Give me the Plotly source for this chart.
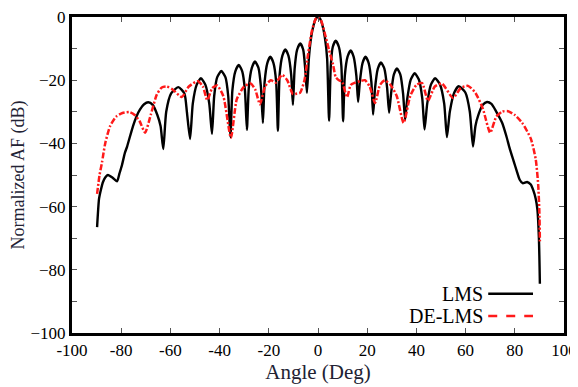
import plotly.graph_objects as go

# LMS (black solid) : angle (deg), normalized AF (dB)
lms_angle = [-89.8, -89.0, -88.2, -87.4, -86.5, -85.4, -83.6, -81.7, -80.7, -79.7, -78.5, -77.6, -75.2, -73.7, -72.4, -70.7, -69.0, -67.2, -65.3, -64.0, -62.9,
             -61.7, -59.7, -56.8, -54.3, -53.3, -52.0,
             -50.9, -49.3, -47.6, -45.8, -44.2, -43.1,
             -42.2, -41.0, -39.3, -37.6, -36.5, -35.6,
             -34.8, -33.6, -32.2, -30.8, -29.7, -28.9,
             -28.1, -26.9, -25.6, -24.2, -23.2, -22.4,
             -21.7, -20.6, -19.4, -18.1, -17.0, -16.3,
             -15.6, -14.5, -13.3, -12.0, -10.9, -10.2,
             -9.5, -8.5, -7.2, -6.0, -5.2, -4.5,
             -3.7, -2.8, -1.8, -0.9, 0.0, 0.9, 1.8, 2.8, 3.7, 4.5,
             5.2, 6.0, 7.2, 8.5, 9.5, 10.2,
             10.9, 12.0, 13.3, 14.5, 15.6, 16.3,
             17.0, 18.1, 19.3, 20.6, 21.7, 22.4,
             23.2, 24.3, 25.6, 27.0, 28.1, 28.9,
             29.7, 30.8, 32.1, 33.5, 34.6, 35.4,
             36.3, 37.7, 39.3, 41.0, 42.4, 43.3,
             44.4, 45.9, 47.6, 49.6, 51.3, 52.4,
             53.6, 55.4, 57.2, 59.9, 61.7, 63.0,
             64.0, 65.2, 67.0, 68.7, 70.5, 72.5, 74.8, 76.5, 78.0, 79.5, 80.9, 82.0, 83.2, 85.0, 86.5, 87.5, 88.5, 89.2, 89.8, 90.2]
lms_db = [-66.5, -57.5, -54.5, -52.2, -50.8, -50.0, -50.8, -52.0, -49.5, -46.9, -43.0, -41.0, -34.5, -31.3, -29.3, -27.6, -27.0, -27.8, -31.0, -34.5, -41.8,
          -30.0, -24.2, -22.2, -24.2, -30.0, -38.6,
          -27.4, -21.4, -19.4, -21.4, -27.4, -37.0,
          -25.0, -19.1, -17.1, -19.1, -25.0, -38.0,
          -23.2, -17.2, -15.2, -17.2, -23.2, -35.7,
          -22.1, -16.1, -14.1, -16.1, -22.1, -33.5,
          -20.6, -14.6, -12.6, -14.6, -20.6, -36.0,
          -18.3, -12.3, -10.3, -12.3, -18.3, -27.8,
          -16.4, -10.4, -8.4, -10.4, -16.4, -24.0,
          -13.0, -6.5, -2.6, -0.6, 0.0, -0.6, -2.6, -6.5, -13.0, -32.8,
          -15.5, -9.5, -7.5, -9.5, -15.5, -33.0,
          -18.6, -12.6, -10.6, -12.6, -18.6, -26.9,
          -20.6, -14.6, -12.6, -14.6, -20.6, -30.9,
          -22.4, -16.4, -14.4, -16.4, -22.4, -30.3,
          -24.3, -18.3, -16.3, -18.3, -24.3, -32.5,
          -25.8, -19.8, -17.8, -19.8, -25.8, -35.6,
          -27.4, -21.4, -19.4, -21.4, -27.4, -38.0,
          -29.9, -23.9, -21.9, -23.9, -29.9, -41.0,
          -34.5, -31.0, -27.8, -26.9, -27.5, -30.0, -33.4, -37.5, -41.8, -45.5, -49.0, -51.5, -52.6, -52.2, -53.0, -54.8, -57.5, -61.0, -70.0, -84.4]

# DE-LMS (red dashed)
de_angle = [-89.8, -88.8, -87.8, -86.5, -84.5, -82.0, -79.5, -76.5, -74.5, -72.5, -70.3, -68.0, -65.5, -63.5, -61.5, -59.0, -55.4, -52.5, -48.8, -46.8, -45.0, -43.0, -41.0, -38.5, -35.4,
            -33.0, -30.0, -27.4, -25.5, -23.6, -21.5, -19.2, -17.2, -14.6, -12.5, -10.2, -8.5, -7.3, -5.5, -4.0, -2.5, -1.0, 0.0,
            1.3, 2.8, 4.5, 6.1, 7.2, 8.5, 9.8, 11.8, 13.3, 15.0, 17.0, 19.1, 21.0, 23.2, 25.2, 27.2, 29.5, 32.0, 34.8,
            37.5, 40.0, 42.3, 44.7, 47.5, 50.4, 54.9, 58.0, 61.0, 64.0, 67.0, 70.0, 72.5, 75.0, 77.2, 80.0, 83.0, 86.5, 88.5, 89.5, 90.0, 90.2]
de_db = [-56.0, -50.0, -46.0, -40.0, -34.5, -31.5, -30.4, -30.1, -31.0, -33.0, -36.6, -31.0, -24.5, -22.3, -22.0, -23.0, -25.3, -22.0, -20.3, -22.0, -26.3, -22.5, -21.7, -25.0, -38.2,
         -26.0, -22.0, -21.0, -23.0, -27.6, -22.0, -20.0, -20.8, -18.3, -20.0, -24.4, -24.2, -24.0, -20.0, -11.6, -4.5, -0.7, 0.0,
         -1.2, -5.3, -10.5, -15.0, -19.0, -20.0, -20.5, -25.4, -21.5, -20.8, -20.3, -20.0, -22.0, -27.2, -21.5, -20.0, -21.5, -25.0, -33.5,
         -25.0, -21.5, -20.9, -26.5, -22.0, -21.1, -25.6, -22.5, -21.8, -24.0, -29.0, -36.6, -31.5, -29.9, -29.8, -31.0, -33.5, -38.5, -45.0, -53.0, -62.0, -71.0]

x_ticks = [-100, -80, -60, -40, -20, 0, 20, 40, 60, 80, 100]
series_names = ["LMS", "DE-LMS"]

FONT = "Liberation Serif"

fig = go.Figure()
fig.add_trace(go.Scatter(x=lms_angle, y=lms_db, mode="lines", name=series_names[0],
                         line=dict(color="black", width=2.4, shape="spline", smoothing=0.6)))
fig.add_trace(go.Scatter(x=de_angle, y=de_db, mode="lines", name=series_names[1],
                         line=dict(color="#ff1a1a", width=2.5, dash="6px,2px,2px,2px", shape="spline", smoothing=0.6)))

axis_common = dict(showline=True, linecolor="black", linewidth=3, mirror="ticks",
                   ticks="inside", ticklen=5, tickwidth=1, tickcolor="#555",
                   showgrid=False, zeroline=False, automargin=False,
                   ticklabeloverflow="allow",
                   tickfont=dict(family=FONT, size=17, color="black"))

fig.update_xaxes(range=[-100, 100], tickvals=x_ticks, ticktext=[str(v) for v in x_ticks],
                 title=dict(text="Angle (Deg)", font=dict(family=FONT, size=21, color="#222233"), standoff=4),
                 **axis_common)
fig.update_yaxes(range=[-100, 0], tick0=0, dtick=10, ticklabelstep=2,
                 title=dict(text="Normalized AF (dB)", font=dict(family=FONT, size=18, color="#222233"), standoff=6),
                 **axis_common)

# legend drawn as text then line (as in the reference)
leg_y = [0.124, 0.054]
dashes = ["solid", "dash"]
colors = ["black", "#ff1a1a"]
for name, yy, dsh, col in zip(series_names, leg_y, dashes, colors):
    fig.add_annotation(x=0.840, y=yy, xref="paper", yref="paper", text=name, showarrow=False,
                       xanchor="right", yanchor="middle", font=dict(family=FONT, size=20, color="black"))
    fig.add_shape(type="line", xref="paper", yref="paper", x0=0.846, x1=0.937, y0=yy, y1=yy,
                  line=dict(color=col, width=2.4, dash=dsh))

# the page body adds an 8px offset, so the figure is sized/margined to compensate
fig.update_layout(width=570, height=379, showlegend=False,
                  margin=dict(l=64, r=14, t=9, b=54),
                  paper_bgcolor="white", plot_bgcolor="white")

fig.write_html("out.html")
